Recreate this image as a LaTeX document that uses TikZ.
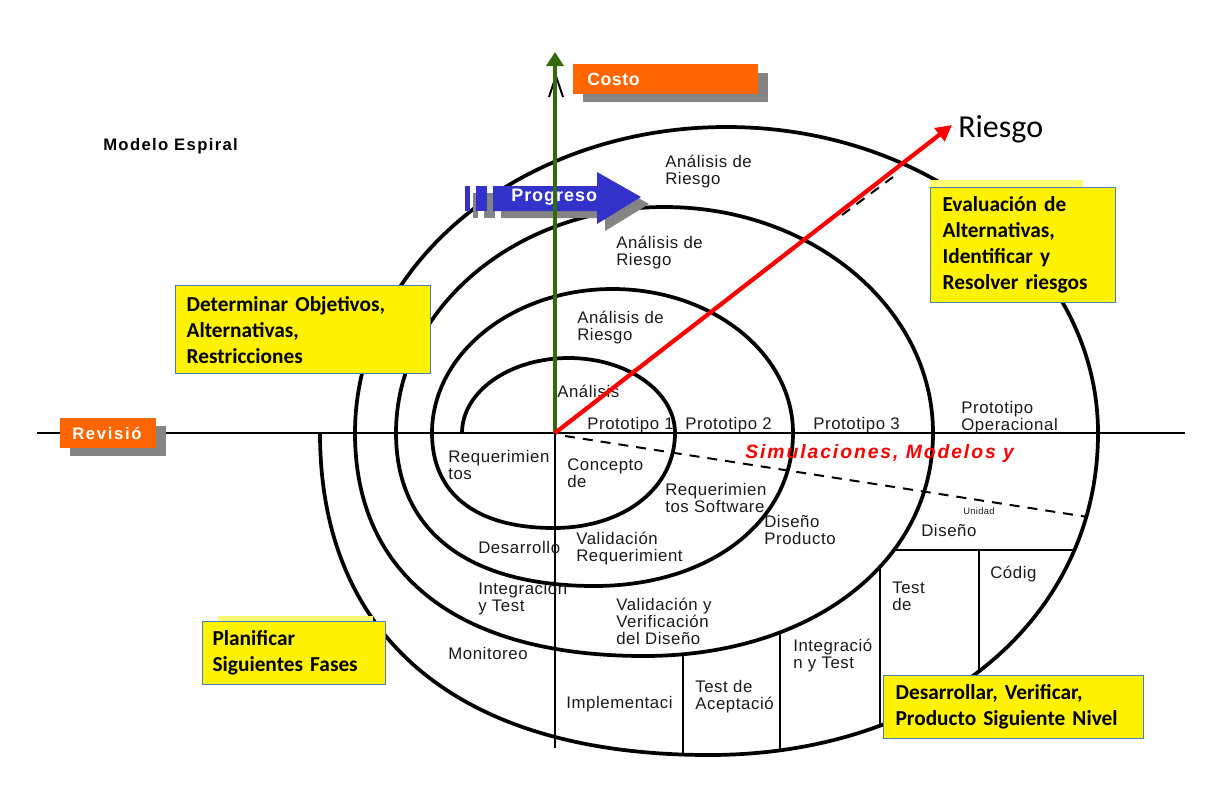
\documentclass[tikz,border=0pt]{standalone}
\usepackage{fontspec}
\setmainfont{Liberation Sans}
\newfontfamily\labfont[LetterSpace=3.5]{Liberation Sans}
\newfontfamily\simfont[LetterSpace=10.0]{Liberation Sans}
\newfontfamily\titfont[LetterSpace=8.0]{Liberation Sans}
\newfontfamily\progfont[LetterSpace=5.5]{Liberation Sans}
\newfontfamily\revfont[LetterSpace=10.0]{Liberation Sans}
\newfontfamily\cosfont[LetterSpace=3.0]{Liberation Sans}
\newfontfamily\calfont{Carlito}
\usetikzlibrary{arrows.meta}
\definecolor{orng}{HTML}{FF6600}
\definecolor{shad}{HTML}{848484}
\definecolor{prog}{HTML}{3333CC}
\definecolor{grn}{HTML}{356A0C}
\definecolor{boxblue}{HTML}{4A7EBB}
\definecolor{paleyel}{HTML}{FFFF70}
\definecolor{ink}{HTML}{1A1A1A}
\begin{document}
\begin{tikzpicture}[x=0.75pt,y=-0.75pt,
  spiral/.style={line width=2.8pt,line join=round},
  axisline/.style={line width=2.2pt},
  cell/.style={line width=1.1pt},
  dashline/.style={line width=1.5pt,dash pattern=on 7.5pt off 6pt},
  lbl/.style={anchor=base west,inner sep=0pt,align=left,text=ink,font=\labfont\fontsize{12.6}{12.75}\selectfont},
  ybox/.style={anchor=north west,fill=yellow,draw=boxblue,line width=0.9pt,align=left,inner xsep=8.25pt,inner ysep=0pt,font=\calfont\bfseries\fontsize{16}{19.5}\selectfont},
  obox/.style={anchor=north west,fill=orng,text=white,inner ysep=0pt,align=left}
]
\useasboundingbox (0,0) rectangle (1216,810);
\fill[white] (0,0) rectangle (1216,810);

\coordinate (O) at (555,433);
\coordinate (gtip) at (555,52);
\coordinate (rtip) at (952,125);
\coordinate (hl) at (37,433);
\coordinate (hr) at (1185,433);
\coordinate (vb) at (555,748);

% spiral
\draw[spiral] (462,433)
  .. controls (462,391.6) and (509.7,358) .. (568.5,358)
  .. controls (627.3,358) and (675,391.6) .. (675,433)
  .. controls (675,488.1) and (624,528) .. (553.5,528)
  .. controls (475.7,528) and (432,493.8) .. (432,433)
  .. controls (432,353.5) and (512.9,289) .. (612.5,289)
  .. controls (712.1,289) and (793,353.5) .. (793,433)
  .. controls (793,521.7) and (709.6,586) .. (594.5,586)
  .. controls (467.5,586) and (396,530.9) .. (396,433)
  .. controls (396,308.2) and (516.3,207) .. (664.5,207)
  .. controls (812.7,207) and (933,308.2) .. (933,433)
  .. controls (933,562.3) and (811.6,656) .. (644,656)
  .. controls (459,656) and (355,575.7) .. (355,433)
  .. controls (355,264.1) and (521.4,127) .. (726.5,127)
  .. controls (931.6,127) and (1098,264.1) .. (1098,433)
  .. controls (1098,619.8) and (934.6,755) .. (709,755)
  .. controls (460,755) and (320,639.1) .. (320,433);

% cells
\draw[cell] (683,653) -- (683,755);
\draw[cell] (780,632) -- (780,751);
\draw[cell] (880,566) -- (880,726);
\draw[cell] (979,550) -- (979,673);
\draw[cell] (895,550) -- (1075,550);

% axes
\draw[axisline] (hl) -- (hr);
\draw[axisline] (O) -- (vb);
\draw[dashline] (565,436) -- (1088,517);
\draw[dashline] (842,215) -- (893,177);
\draw[line width=1.5pt] (549,97) -- (556,76) -- (563,97);

% labels
\node[lbl] (an4) at (665,184) {Análisis de\\Riesgo};
\node[lbl] (an3) at (616,265) {Análisis de\\Riesgo};
\node[lbl] (an2) at (577,340) {Análisis de\\Riesgo};
\node[lbl] (an1) at (557,397) {Análisis};
\node[lbl] (p1) at (587,429) {Prototipo 1};
\node[lbl] (p2) at (685,429) {Prototipo 2};
\node[lbl] (p3) at (813,429) {Prototipo 3};
\node[lbl] (pop) at (961,430) {Prototipo\\Operacional};
\node[lbl] (rq1) at (448,479) {Requerimien\\tos};
\node[lbl] (cpt) at (567,487) {Concepto\\de};
\node[lbl] (rq2) at (665,512) {Requerimien\\tos Software};
\node[lbl] (dp) at (764,544) {Diseño\\Producto};
\node[lbl] (des) at (478,553) {Desarrollo};
\node[lbl] (vr) at (576,561) {Validación\\Requerimient};
\node[lbl] (it1) at (478,611) {Integración\\y Test};
\node[lbl] (mon) at (448,659) {Monitoreo};
\node[lbl] (vvd) at (616,644) {Validación y\\Verificación\\del Diseño};
\node[lbl] (imp) at (566,708) {Implementaci};
\node[lbl] (tac) at (695,709) {Test de\\Aceptació};
\node[lbl] (it2) at (793,668) {Integració\\n y Test};
\node[lbl] (tst) at (892,610) {Test\\de};
\node[lbl] (cod) at (990,578) {Códig};
\node[lbl] (dsn) at (921,536) {Diseño};
\node[lbl,font=\labfont\fontsize{7}{8}\selectfont] (uni) at (963,514) {Unidad};

\node[anchor=base west,inner sep=0pt,text=red,font=\simfont\bfseries\itshape\fontsize{14.5}{16}\selectfont] (sim) at (745,458) {Simulaciones, Modelos y};

% progreso arrow
\fill[shad] (473,193) rectangle (478,218);
\fill[shad] (484,193) rectangle (495,218);
\fill[shad] (501,193) -- (605,193) -- (605,179) -- (649,204) -- (605,231) -- (605,218) -- (501,218) -- cycle;
\fill[prog] (465,186) rectangle (470,211);
\fill[prog] (476,186) rectangle (487,211);
\fill[prog] (493,186) -- (597,186) -- (597,172) -- (641,197) -- (597,224) -- (597,211) -- (493,211) -- cycle;
\node[anchor=west,inner sep=0pt,text=white,font=\progfont\bfseries\fontsize{13.5}{15}\selectfont] (prg) at (511,197) {Progreso};

% arrows
\draw[grn,line width=3pt,-{Triangle[length=10.5pt,width=12.75pt]}] (O) -- (gtip);
\draw[red,line width=3.2pt,-{Triangle[length=12pt,width=12pt]}] (O) -- (rtip);

% orange labels
\fill[shad] (583,73) rectangle (768,102);
\node[obox,minimum width=138.75pt,minimum height=22.5pt,inner xsep=10.5pt,text width=117.75pt,font=\cosfont\bfseries\fontsize{13.3}{15}\selectfont] (costo) at (573,64) {Costo};
\fill[shad] (70,426) rectangle (166,456);
\node[obox,minimum width=72pt,minimum height=22.5pt,inner xsep=9pt,text width=54pt,font=\revfont\bfseries\fontsize{12.5}{14}\selectfont] (rev) at (60,418) {Revisió};

% yellow boxes
\fill[paleyel] (930,180) rectangle (1083,188);
\fill[paleyel] (218,616) rectangle (373,622);
\node[ybox,text width=174.75pt,minimum height=66pt] (obj) at (175,285) {Determinar Objetivos,\\Alternativas,\\Restricciones};
\node[ybox,text width=120.75pt,minimum height=86.25pt,inner xsep=9pt] (eva) at (930,187) {Evaluación de\\Alternativas,\\Identificar y\\Resolver riesgos};
\node[ybox,text width=122pt,minimum height=47.25pt,inner xsep=7.5pt] (pla) at (202,621) {Planificar\\Siguientes Fases};
\node[ybox,text width=177pt,minimum height=47.25pt,inner xsep=9pt] (dvp) at (883,675) {Desarrollar, Verificar,\\Producto Siguiente Nivel};

% titles
\node[anchor=base west,inner sep=0pt,font=\calfont\fontsize{24}{28}\selectfont] (rsg) at (958,137) {Riesgo};
\node[anchor=base west,inner sep=0pt,font=\titfont\bfseries\fontsize{12.5}{14}\selectfont] (tit) at (103,150) {Modelo Espiral};
\end{tikzpicture}
\end{document}
